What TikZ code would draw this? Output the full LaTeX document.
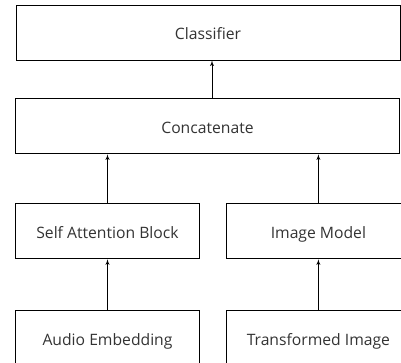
\documentclass[tikz,border=0pt]{standalone}
\usepackage{fontspec}
\setmainfont{Open Sans}
\usetikzlibrary{positioning,arrows}
\definecolor{textgray}{HTML}{333333}
\tikzstyle{block} = [rectangle, draw=black, line width=0.9pt, text=textgray,
    minimum width=184pt, minimum height=55pt, inner sep=0pt,
    text height=15.5pt, text depth=1.5pt,
    font=\fontsize{15.7pt}{18pt}\selectfont]
\tikzstyle{wide} = [block, minimum width=384pt]
\tikzstyle{line} = [draw, line width=0.9pt, -latex']

\begin{document}
\begin{tikzpicture}[node distance = 38pt]
    \useasboundingbox (0,0) rectangle (401pt,-362pt);
    \clip (0,0) rectangle (401pt,-362pt);
    % Place nodes
    \node [wide] (classifier) at (208pt,-32.5pt) {Classifier};
    \node [wide, below=of classifier, xshift=-0.5pt] (concat) {Concatenate};
    \node [block, anchor=north west] (selfatt) at ([yshift=-49pt]concat.south west) {Self Attention Block};
    \node [block, right=26pt of selfatt] (imgmodel) {Image Model};
    \node [block, below=51pt of selfatt] (audio) {Audio Embedding};
    \node [block, below=51pt of imgmodel] (transformed) {Transformed Image};
    % Draw edges
    \path [line] ([xshift=4.5pt]concat.north) -- ([xshift=4pt]classifier.south);
    \path [line] (selfatt) -- (selfatt |- concat.south);
    \path [line] (imgmodel) -- (imgmodel |- concat.south);
    \path [line] (audio) -- (selfatt);
    \path [line] (transformed) -- (imgmodel);
\end{tikzpicture}
\end{document}
